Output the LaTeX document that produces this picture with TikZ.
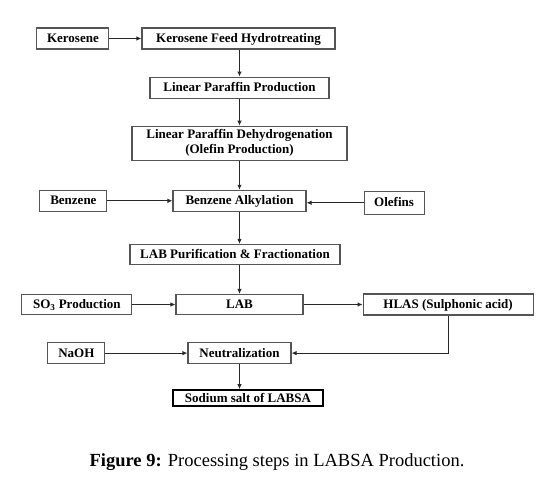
\documentclass[tikz,border=0pt]{standalone}
\usepackage{fontspec}
\setmainfont{Liberation Serif}
\usetikzlibrary{arrows.meta, positioning}
\usepackage{xcolor}
\definecolor{boxgray}{RGB}{85,85,85}
\definecolor{linegray}{RGB}{40,40,40}

\begin{document}
\begin{tikzpicture}[
    x=1pt, y=1pt,
    node distance=27pt and 32pt,
    block/.style={rectangle, draw=boxgray, line width=1.1pt, inner sep=0pt, minimum width=#1, minimum height=21pt, align=center, font=\fontsize{13}{15}\selectfont\bfseries},
    stage/.style={block=#1, text height=8.8pt, text depth=0.5pt},
    flow/.style={-{Latex[length=5pt, width=4.5pt]}, line width=0.9pt, linegray},
]
    \useasboundingbox (0,0) rectangle (550,-479);

    % Main chain
    \node[stage=193pt] (kfh) at (238.5,-38.5) {Kerosene Feed Hydrotreating};
    \node[stage=179pt, below=27pt of kfh, xshift=1pt] (lpp) {Linear Paraffin Production};
    \node[block=215pt, minimum height=34pt, below=27pt of lpp] (lpd) {Linear Paraffin Dehydrogenation\\(Olefin Production)};
    \node[stage=133pt, below=29pt of lpd] (alkyl) {Benzene Alkylation};
    \node[stage=210pt, minimum height=20pt, below=32pt of alkyl, xshift=-4.5pt] (purif) {LAB Purification \& Fractionation};
    \node[stage=127pt, minimum height=20pt, below=29pt of purif, xshift=4.5pt] (lab) {LAB};
    \node[stage=103pt, below=27pt of lab] (neut) {Neutralization};
    \node[stage=150pt, minimum height=16pt, draw=black, line width=2.2pt, below=25pt of neut, xshift=8.5pt] (salt) {Sodium salt of LABSA};

    % Feeds
    \node[stage=72pt, left=32pt of kfh] (kero) {Kerosene};
    \node[stage=67pt, left=65pt of alkyl] (benz) {Benzene};
    \node[stage=60pt, minimum height=23pt, right=57pt of alkyl, yshift=-2pt] (olef) {Olefins};
    \node[stage=110pt, minimum height=20pt, left=43pt of lab] (so3) {SO\textsubscript{3} Production};
    \node[stage=170pt, right=59pt of lab] (hlas) {HLAS (Sulphonic acid)};
    \node[stage=57pt, left=82pt of neut] (naoh) {NaOH};

    % Caption
    \node[font=\fontsize{18.5}{22}\selectfont] (cap) at (277,-462) {\textbf{Figure 9:} Processing steps in LABSA Production.};

    % Arrows
    \draw[flow] (kero) -- (kfh);
    \draw[flow] (lpp.north |- kfh.south) -- (lpp.north);
    \draw[flow] (lpp) -- (lpd);
    \draw[flow] (lpd) -- (alkyl);
    \draw[flow] (benz) -- (benz -| alkyl.west);
    \draw[flow, line width=1.3pt] (olef) -- (olef -| alkyl.east);
    \draw[flow] (alkyl.south) -- (alkyl.south |- purif.north);
    \draw[flow] (lab.north |- purif.south) -- (lab.north);
    \draw[flow] (so3) -- (lab);
    \draw[flow] (lab) -- (hlas);
    \draw[flow] (naoh) -- (neut);
    \draw[flow] (hlas.south) |- (neut.east);
    \draw[flow] (neut.south) -- (neut.south |- salt.north);

\end{tikzpicture}
\end{document}
